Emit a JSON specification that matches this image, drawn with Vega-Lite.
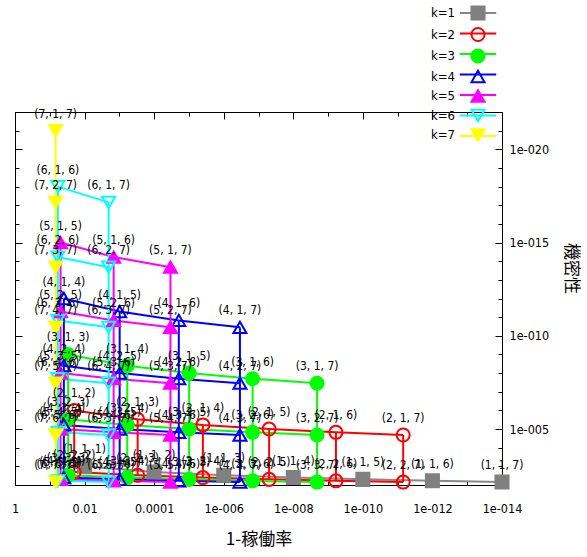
{
  "$schema": "https://vega.github.io/schema/vega-lite/v6.json",
  "width": 487,
  "height": 373,
  "autosize": "none",
  "padding": {"left": 15, "top": 112, "right": 85, "bottom": 72},
  "background": "white",
  "config": {
    "view": {"stroke": "#000", "strokeWidth": 1},
    "axis": {"domain": false, "grid": false, "labelFont": "DejaVu Sans Condensed", "labelFontSize": 12.5, "labelColor": "#000", "tickColor": "#000", "tickWidth": 1, "titleColor": "#000", "labelOverlap": false, "labelBound": false, "labelFlush": false}
  },
  "data": {"values": [
    {"k":1,"m":1,"n":1,"x":0.01,"y":0.001,"label":"(1, 1, 1)"},
    {"k":1,"m":1,"n":2,"x":1e-4,"y":0.002,"label":"(1, 1, 2)"},
    {"k":1,"m":1,"n":3,"x":1e-6,"y":0.003,"label":"(1, 1, 3)"},
    {"k":1,"m":1,"n":4,"x":1e-8,"y":0.00399,"label":"(1, 1, 4)"},
    {"k":1,"m":1,"n":5,"x":1e-10,"y":0.00499,"label":"(1, 1, 5)"},
    {"k":1,"m":1,"n":6,"x":1e-12,"y":0.00599,"label":"(1, 1, 6)"},
    {"k":1,"m":1,"n":7,"x":1e-14,"y":0.00698,"label":"(1, 1, 7)"},
    {"k":2,"m":1,"n":2,"x":0.0199,"y":1e-6,"label":"(2, 1, 2)"},
    {"k":2,"m":1,"n":3,"x":2.98e-4,"y":3e-6,"label":"(2, 1, 3)"},
    {"k":2,"m":1,"n":4,"x":3.97e-6,"y":5.99e-6,"label":"(2, 1, 4)"},
    {"k":2,"m":1,"n":5,"x":4.95e-8,"y":9.98e-6,"label":"(2, 1, 5)"},
    {"k":2,"m":1,"n":6,"x":5.94e-10,"y":1.496e-5,"label":"(2, 1, 6)"},
    {"k":2,"m":1,"n":7,"x":6.93e-12,"y":2.09e-5,"label":"(2, 1, 7)"},
    {"k":2,"m":2,"n":2,"x":0.0199,"y":0.002,"label":"(2, 2, 2)"},
    {"k":2,"m":2,"n":3,"x":2.98e-4,"y":0.003,"label":"(2, 2, 3)"},
    {"k":2,"m":2,"n":4,"x":3.97e-6,"y":0.00399,"label":"(2, 2, 4)"},
    {"k":2,"m":2,"n":5,"x":4.95e-8,"y":0.00499,"label":"(2, 2, 5)"},
    {"k":2,"m":2,"n":6,"x":5.94e-10,"y":0.00599,"label":"(2, 2, 6)"},
    {"k":2,"m":2,"n":7,"x":6.93e-12,"y":0.00698,"label":"(2, 2, 7)"},
    {"k":3,"m":1,"n":3,"x":0.0297,"y":1e-9,"label":"(3, 1, 3)"},
    {"k":3,"m":1,"n":4,"x":5.92e-4,"y":4e-9,"label":"(3, 1, 4)"},
    {"k":3,"m":1,"n":5,"x":9.85e-6,"y":1e-8,"label":"(3, 1, 5)"},
    {"k":3,"m":1,"n":6,"x":1.476e-7,"y":2e-8,"label":"(3, 1, 6)"},
    {"k":3,"m":1,"n":7,"x":2.065e-9,"y":3.49e-8,"label":"(3, 1, 7)"},
    {"k":3,"m":2,"n":3,"x":0.0297,"y":3e-6,"label":"(3, 2, 3)"},
    {"k":3,"m":2,"n":4,"x":5.92e-4,"y":5.99e-6,"label":"(3, 2, 4)"},
    {"k":3,"m":2,"n":5,"x":9.85e-6,"y":9.98e-6,"label":"(3, 2, 5)"},
    {"k":3,"m":2,"n":6,"x":1.476e-7,"y":1.496e-5,"label":"(3, 2, 6)"},
    {"k":3,"m":2,"n":7,"x":2.065e-9,"y":2.09e-5,"label":"(3, 2, 7)"},
    {"k":3,"m":3,"n":3,"x":0.0297,"y":0.003,"label":"(3, 3, 3)"},
    {"k":3,"m":3,"n":4,"x":5.92e-4,"y":0.00399,"label":"(3, 3, 4)"},
    {"k":3,"m":3,"n":5,"x":9.85e-6,"y":0.00499,"label":"(3, 3, 5)"},
    {"k":3,"m":3,"n":6,"x":1.476e-7,"y":0.00599,"label":"(3, 3, 6)"},
    {"k":3,"m":3,"n":7,"x":2.065e-9,"y":0.00698,"label":"(3, 3, 7)"},
    {"k":4,"m":1,"n":4,"x":0.0394,"y":1e-12,"label":"(4, 1, 4)"},
    {"k":4,"m":1,"n":5,"x":9.8e-4,"y":5e-12,"label":"(4, 1, 5)"},
    {"k":4,"m":1,"n":6,"x":1.955e-5,"y":1.5e-11,"label":"(4, 1, 6)"},
    {"k":4,"m":1,"n":7,"x":3.417e-7,"y":3.5e-11,"label":"(4, 1, 7)"},
    {"k":4,"m":2,"n":4,"x":0.0394,"y":4e-9,"label":"(4, 2, 4)"},
    {"k":4,"m":2,"n":5,"x":9.8e-4,"y":1e-8,"label":"(4, 2, 5)"},
    {"k":4,"m":2,"n":6,"x":1.955e-5,"y":2e-8,"label":"(4, 2, 6)"},
    {"k":4,"m":2,"n":7,"x":3.417e-7,"y":3.49e-8,"label":"(4, 2, 7)"},
    {"k":4,"m":3,"n":4,"x":0.0394,"y":5.99e-6,"label":"(4, 3, 4)"},
    {"k":4,"m":3,"n":5,"x":9.8e-4,"y":9.98e-6,"label":"(4, 3, 5)"},
    {"k":4,"m":3,"n":6,"x":1.955e-5,"y":1.496e-5,"label":"(4, 3, 6)"},
    {"k":4,"m":3,"n":7,"x":3.417e-7,"y":2.09e-5,"label":"(4, 3, 7)"},
    {"k":4,"m":4,"n":4,"x":0.0394,"y":0.00399,"label":"(4, 4, 4)"},
    {"k":4,"m":4,"n":5,"x":9.8e-4,"y":0.00499,"label":"(4, 4, 5)"},
    {"k":4,"m":4,"n":6,"x":1.955e-5,"y":0.00599,"label":"(4, 4, 6)"},
    {"k":4,"m":4,"n":7,"x":3.417e-7,"y":0.00698,"label":"(4, 4, 7)"},
    {"k":5,"m":1,"n":5,"x":0.049,"y":1e-15,"label":"(5, 1, 5)"},
    {"k":5,"m":1,"n":6,"x":1.46e-3,"y":6e-15,"label":"(5, 1, 6)"},
    {"k":5,"m":1,"n":7,"x":3.396e-5,"y":2.1e-14,"label":"(5, 1, 7)"},
    {"k":5,"m":2,"n":5,"x":0.049,"y":5e-12,"label":"(5, 2, 5)"},
    {"k":5,"m":2,"n":6,"x":1.46e-3,"y":1.5e-11,"label":"(5, 2, 6)"},
    {"k":5,"m":2,"n":7,"x":3.396e-5,"y":3.5e-11,"label":"(5, 2, 7)"},
    {"k":5,"m":3,"n":5,"x":0.049,"y":1e-8,"label":"(5, 3, 5)"},
    {"k":5,"m":3,"n":6,"x":1.46e-3,"y":2e-8,"label":"(5, 3, 6)"},
    {"k":5,"m":3,"n":7,"x":3.396e-5,"y":3.49e-8,"label":"(5, 3, 7)"},
    {"k":5,"m":4,"n":5,"x":0.049,"y":9.98e-6,"label":"(5, 4, 5)"},
    {"k":5,"m":4,"n":6,"x":1.46e-3,"y":1.496e-5,"label":"(5, 4, 6)"},
    {"k":5,"m":4,"n":7,"x":3.396e-5,"y":2.09e-5,"label":"(5, 4, 7)"},
    {"k":5,"m":5,"n":5,"x":0.049,"y":0.00499,"label":"(5, 5, 5)"},
    {"k":5,"m":5,"n":6,"x":1.46e-3,"y":0.00599,"label":"(5, 5, 6)"},
    {"k":5,"m":5,"n":7,"x":3.396e-5,"y":0.00698,"label":"(5, 5, 7)"},
    {"k":6,"m":1,"n":6,"x":0.0585,"y":1e-18,"label":"(6, 1, 6)"},
    {"k":6,"m":1,"n":7,"x":2.031e-3,"y":7e-18,"label":"(6, 1, 7)"},
    {"k":6,"m":2,"n":6,"x":0.0585,"y":6e-15,"label":"(6, 2, 6)"},
    {"k":6,"m":2,"n":7,"x":2.031e-3,"y":2.1e-14,"label":"(6, 2, 7)"},
    {"k":6,"m":3,"n":6,"x":0.0585,"y":1.5e-11,"label":"(6, 3, 6)"},
    {"k":6,"m":3,"n":7,"x":2.031e-3,"y":3.5e-11,"label":"(6, 3, 7)"},
    {"k":6,"m":4,"n":6,"x":0.0585,"y":2e-8,"label":"(6, 4, 6)"},
    {"k":6,"m":4,"n":7,"x":2.031e-3,"y":3.49e-8,"label":"(6, 4, 7)"},
    {"k":6,"m":5,"n":6,"x":0.0585,"y":1.496e-5,"label":"(6, 5, 6)"},
    {"k":6,"m":5,"n":7,"x":2.031e-3,"y":2.09e-5,"label":"(6, 5, 7)"},
    {"k":6,"m":6,"n":6,"x":0.0585,"y":0.00599,"label":"(6, 6, 6)"},
    {"k":6,"m":6,"n":7,"x":2.031e-3,"y":0.00698,"label":"(6, 6, 7)"},
    {"k":7,"m":1,"n":7,"x":0.0679,"y":1e-21,"label":"(7, 1, 7)"},
    {"k":7,"m":2,"n":7,"x":0.0679,"y":7e-18,"label":"(7, 2, 7)"},
    {"k":7,"m":3,"n":7,"x":0.0679,"y":2.1e-14,"label":"(7, 3, 7)"},
    {"k":7,"m":4,"n":7,"x":0.0679,"y":3.5e-11,"label":"(7, 4, 7)"},
    {"k":7,"m":5,"n":7,"x":0.0679,"y":3.49e-8,"label":"(7, 5, 7)"},
    {"k":7,"m":6,"n":7,"x":0.0679,"y":2.09e-5,"label":"(7, 6, 7)"},
    {"k":7,"m":7,"n":7,"x":0.0679,"y":0.00698,"label":"(7, 7, 7)"}
  ]},
  "layer": [
    {
      "mark": {"type": "line", "strokeWidth": 2},
      "encoding": {
        "x": {"field": "x", "type": "quantitative",
          "scale": {"type": "log", "domain": [1e-14, 1], "reverse": true, "nice": false},
          "axis": {"orient": "bottom", "title": "1-稼働率",
            "values": [1, 0.1, 0.01, 0.001, 0.0001, 1e-5, 1e-6, 1e-7, 1e-8, 1e-9, 1e-10, 1e-11, 1e-12, 1e-13, 1e-14],
            "labelExpr": "round(-log(datum.value)/LN10) % 2 ? '' : (datum.value > 1e-5 ? format(datum.value, '') : '1e-0' + (round(-log(datum.value)/LN10) < 10 ? '0' : '') + round(-log(datum.value)/LN10))",
            "tickSize": {"condition": {"test": "round(-log(datum.value)/LN10) % 2 == 0", "value": -7}, "value": -4},
            "labelPadding": 24,
            "titleFont": "Noto Sans CJK JP", "titleFontSize": 17, "titleFontWeight": "normal", "titlePadding": 14}},
        "y": {"field": "y", "type": "quantitative",
          "scale": {"type": "log", "domain": [1e-22, 1e-2], "reverse": true, "nice": false},
          "axis": {"orient": "right", "title": "機密性",
            "values": [1e-22, 1e-21, 1e-20, 1e-19, 1e-18, 1e-17, 1e-16, 1e-15, 1e-14, 1e-13, 1e-12, 1e-11, 1e-10, 1e-9, 1e-8, 1e-7, 1e-6, 1e-5, 1e-4, 1e-3, 1e-2],
            "labelExpr": "round(-log(datum.value)/LN10) % 5 ? '' : '1e-0' + (round(-log(datum.value)/LN10) < 10 ? '0' : '') + round(-log(datum.value)/LN10)",
            "tickSize": {"condition": {"test": "round(-log(datum.value)/LN10) % 5 == 0", "value": -7}, "value": -4},
            "labelPadding": 14, "labelAlign": "left", "labelBaseline": "middle",
            "titleFont": "Noto Sans CJK JP", "titleFontSize": 17, "titleFontWeight": "normal",
            "titleAngle": 90, "titleX": 68, "titleY": 156, "titleAlign": "center", "titleBaseline": "middle"}},
        "color": {"field": "k", "type": "nominal",
          "scale": {"domain": [1, 2, 3, 4, 5, 6, 7], "range": ["#888888", "#ff0000", "#00ff00", "#0000ff", "#ff00ff", "#00ffff", "#ffff00"]},
          "legend": {"orient": "none", "legendX": 455, "legendY": -107, "title": null, "padding": 0,
            "symbolType": "M-2.8,0H2.8", "symbolSize": 170, "symbolStrokeWidth": 2,
            "labelFont": "DejaVu Sans Condensed", "labelFontSize": 13,
            "labelAlign": "right", "labelOffset": -31, "rowPadding": 5.5, "labelExpr": "''"}},
        "detail": [{"field": "k"}, {"field": "m"}],
        "order": {"field": "n", "type": "quantitative"}
      }
    },
    {
      "mark": {"type": "line", "strokeWidth": 2},
      "encoding": {
        "x": {"field": "x", "type": "quantitative", "axis": null},
        "y": {"field": "y", "type": "quantitative", "axis": null},
        "color": {"field": "k", "type": "nominal"},
        "detail": [{"field": "k"}, {"field": "n"}],
        "order": {"field": "m", "type": "quantitative"}
      }
    },
    {
      "mark": {"type": "point", "size": 170, "strokeWidth": 2, "opacity": 1},
      "encoding": {
        "x": {"field": "x", "type": "quantitative", "axis": null},
        "y": {"field": "y", "type": "quantitative", "axis": null},
        "stroke": {"field": "k", "type": "nominal",
          "scale": {"range": ["#808080", "#ff0000", "#00ff00", "#0000ff", "#ff00ff", "#00ffff", "#ffff00"]},
          "legend": {"orient": "none", "legendX": 455, "legendY": -107, "title": null, "padding": 0, "symbolSize": 170, "symbolStrokeWidth": 2, "labelFont": "DejaVu Sans Condensed", "labelFontSize": 13, "labelAlign": "right", "labelOffset": -31, "rowPadding": -0.5, "labelExpr": "'k=' + datum.label"}},
        "fill": {"field": "k", "type": "nominal",
          "scale": {"range": ["#808080", "transparent", "#00ff00", "transparent", "#ff00ff", "transparent", "#ffff00"]},
          "legend": {"orient": "none", "legendX": 455, "legendY": -107, "title": null, "padding": 0, "symbolSize": 170, "symbolStrokeWidth": 2, "labelFont": "DejaVu Sans Condensed", "labelFontSize": 13, "labelAlign": "right", "labelOffset": -31, "rowPadding": -0.5, "labelExpr": "'k=' + datum.label"}},
        "shape": {"field": "k", "type": "nominal",
          "scale": {"range": ["square", "circle", "circle", "triangle-up", "triangle-up", "triangle-down", "triangle-down"]},
          "legend": {"orient": "none", "legendX": 455, "legendY": -107, "title": null, "padding": 0, "symbolSize": 170, "symbolStrokeWidth": 2, "labelFont": "DejaVu Sans Condensed", "labelFontSize": 13, "labelAlign": "right", "labelOffset": -31, "rowPadding": -0.5, "labelExpr": "'k=' + datum.label"}}
      }
    },
    {
      "mark": {"type": "text", "dy": -17, "fontSize": 12, "font": "DejaVu Sans Condensed", "color": "#000", "baseline": "middle"},
      "encoding": {
        "x": {"field": "x", "type": "quantitative", "axis": null},
        "y": {"field": "y", "type": "quantitative", "axis": null},
        "text": {"field": "label"}
      }
    },
    {
      "mark": {"type": "point", "opacity": 0},
      "encoding": {
        "x": {"field": "x", "type": "quantitative",
          "axis": {"orient": "top", "labels": false, "title": null,
            "values": [1, 0.1, 0.01, 0.001, 0.0001, 1e-5, 1e-6, 1e-7, 1e-8, 1e-9, 1e-10, 1e-11, 1e-12, 1e-13, 1e-14],
            "tickSize": {"condition": {"test": "round(-log(datum.value)/LN10) % 2 == 0", "value": -7}, "value": -4}}},
        "y": {"field": "y", "type": "quantitative",
          "axis": {"orient": "left", "labels": false, "title": null,
            "values": [1e-22, 1e-21, 1e-20, 1e-19, 1e-18, 1e-17, 1e-16, 1e-15, 1e-14, 1e-13, 1e-12, 1e-11, 1e-10, 1e-9, 1e-8, 1e-7, 1e-6, 1e-5, 1e-4, 1e-3, 1e-2],
            "tickSize": {"condition": {"test": "round(-log(datum.value)/LN10) % 5 == 0", "value": -7}, "value": -4}}}
      }
    }
  ],
  "resolve": {"axis": {"x": "independent", "y": "independent"}}
}
